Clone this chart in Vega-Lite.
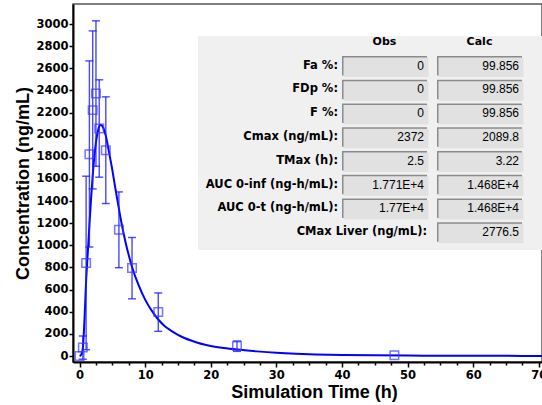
{
  "$schema": "https://vega.github.io/schema/vega-lite/v6.json",
  "width": 469,
  "height": 358,
  "autosize": "none",
  "padding": {"left": 73, "top": 4, "right": 0, "bottom": 43},
  "background": "white",
  "config": {"view": {"stroke": "#555555", "strokeWidth": 1.5}},
  "datasets": {
    "curve": [
      {"t": 0, "c": 0}, {"t": 0.25, "c": 12}, {"t": 0.5, "c": 70}, {"t": 0.75, "c": 330},
      {"t": 1, "c": 680}, {"t": 1.25, "c": 930}, {"t": 1.5, "c": 1180}, {"t": 1.75, "c": 1420},
      {"t": 2, "c": 1630}, {"t": 2.25, "c": 1800}, {"t": 2.5, "c": 1930}, {"t": 2.75, "c": 2020},
      {"t": 3, "c": 2075}, {"t": 3.22, "c": 2090}, {"t": 3.5, "c": 2075}, {"t": 4, "c": 1990},
      {"t": 4.5, "c": 1840}, {"t": 5, "c": 1680}, {"t": 5.5, "c": 1500}, {"t": 6, "c": 1330},
      {"t": 6.5, "c": 1170}, {"t": 7, "c": 1030}, {"t": 7.5, "c": 910}, {"t": 8, "c": 805},
      {"t": 9, "c": 640}, {"t": 10, "c": 510}, {"t": 11, "c": 410}, {"t": 12, "c": 330},
      {"t": 13, "c": 270}, {"t": 14, "c": 228}, {"t": 15, "c": 192}, {"t": 16, "c": 163},
      {"t": 17, "c": 140}, {"t": 18, "c": 120}, {"t": 19, "c": 104}, {"t": 20, "c": 91},
      {"t": 22, "c": 72}, {"t": 24, "c": 58}, {"t": 27, "c": 42}, {"t": 30, "c": 29},
      {"t": 33, "c": 20}, {"t": 36, "c": 14}, {"t": 40, "c": 9}, {"t": 45, "c": 6},
      {"t": 50, "c": 4}, {"t": 55, "c": 3}, {"t": 60, "c": 2}, {"t": 65, "c": 1.5},
      {"t": 70, "c": 1}, {"t": 70.5, "c": 1}
    ],
    "obs": [
      {"t": 0, "c": 0, "lo": null, "hi": null},
      {"t": 0.5, "c": 76, "lo": -29, "hi": 181},
      {"t": 1, "c": 841, "lo": 57, "hi": 1625},
      {"t": 1.5, "c": 1824, "lo": 985, "hi": 2667},
      {"t": 2, "c": 2222, "lo": 1510, "hi": 2938},
      {"t": 2.5, "c": 2372, "lo": 1715, "hi": 3029},
      {"t": 3, "c": 2056, "lo": 1616, "hi": 2496},
      {"t": 4, "c": 1860, "lo": 1378, "hi": 2342},
      {"t": 6, "c": 1140, "lo": 798, "hi": 1483},
      {"t": 8, "c": 796, "lo": 517, "hi": 1071},
      {"t": 12, "c": 398, "lo": 223, "hi": 570},
      {"t": 24, "c": 90, "lo": 42, "hi": 136},
      {"t": 48, "c": 8, "lo": null, "hi": null}
    ],
    "table": [
      {"row": "Fa %:", "obs": "0", "calc": "99.856", "lc": "label"},
      {"row": "FDp %:", "obs": "0", "calc": "99.856", "lc": "label"},
      {"row": "F %:", "obs": "0", "calc": "99.856", "lc": "label"},
      {"row": "Cmax (ng/mL):", "obs": "2372", "calc": "2089.8", "lc": "label"},
      {"row": "TMax (h):", "obs": "2.5", "calc": "3.22", "lc": "label"},
      {"row": "AUC 0-inf (ng-h/mL):", "obs": "1.771E+4", "calc": "1.468E+4", "lc": "label"},
      {"row": "AUC 0-t (ng-h/mL):", "obs": "1.77E+4", "calc": "1.468E+4", "lc": "label"},
      {"row": "CMax Liver (ng/mL):", "obs": "", "calc": "2776.5", "lc": "obs"}
    ],
    "header": [
      {"row": "hdr", "col": "obs", "text": "Obs"},
      {"row": "hdr", "col": "calc", "text": "Calc"}
    ]
  },
  "layer": [
    {
      "encoding": {
        "x": {
          "type": "quantitative",
          "scale": {"domain": [-1, 70.5], "nice": false, "zero": false},
          "axis": {
            "values": [0, 2.5, 5, 7.5, 10, 12.5, 15, 17.5, 20, 22.5, 25, 27.5, 30, 32.5, 35, 37.5, 40, 42.5, 45, 47.5, 50, 52.5, 55, 57.5, 60, 62.5, 65, 67.5, 70],
            "labelExpr": "datum.value % 10 === 0 ? datum.label : ''",
            "labelOverlap": false,
            "tickSize": {"condition": {"test": "datum.value % 10 === 0", "value": 5}, "value": 3},
            "tickColor": "black", "tickWidth": 1.5,
            "domainColor": "black", "domainWidth": 2,
            "grid": false,
            "labelFont": "DejaVu Sans", "labelFontWeight": "bold", "labelFontSize": 11.5, "labelColor": "black", "labelPadding": 2,
            "title": "Simulation Time (h)", "titleFont": "Liberation Sans", "titleFontSize": 18, "titleFontWeight": "bold", "titleColor": "black",
            "titlePadding": 3, "titleX": 241
          }
        },
        "y": {
          "type": "quantitative",
          "scale": {"domain": [-54, 3181], "nice": false, "zero": false},
          "axis": {
            "values": [0, 200, 400, 600, 800, 1000, 1200, 1400, 1600, 1800, 2000, 2200, 2400, 2600, 2800, 3000],
            "format": "d",
            "tickSize": 4, "tickColor": "black", "tickWidth": 1.5,
            "domainColor": "black", "domainWidth": 2,
            "grid": false,
            "labelFont": "DejaVu Sans", "labelFontWeight": "bold", "labelFontSize": 11.5, "labelColor": "black", "labelPadding": 1,
            "title": "Concentration (ng/mL)", "titleFont": "Liberation Sans", "titleFontSize": 18, "titleFontWeight": "bold", "titleColor": "black",
            "titlePadding": 3
          }
        }
      },
      "layer": [
        {
          "data": {"name": "curve"},
          "mark": {"type": "line", "color": "#0000ff", "strokeWidth": 2, "interpolate": "monotone"},
          "encoding": {"x": {"field": "t"}, "y": {"field": "c"}}
        },
        {
          "data": {"name": "obs"},
          "transform": [{"filter": "datum.lo != null"}],
          "mark": {"type": "rule", "color": "#1a1aff", "strokeWidth": 1.4, "opacity": 0.8},
          "encoding": {"x": {"field": "t"}, "y": {"field": "lo"}, "y2": {"field": "hi"}}
        },
        {
          "data": {"name": "obs"},
          "transform": [{"fold": ["lo", "hi"], "as": ["k", "v"]}, {"filter": "datum.v != null"}],
          "mark": {"type": "tick", "orient": "horizontal", "color": "#1a1aff", "size": 8, "thickness": 1.4, "opacity": 0.8},
          "encoding": {"x": {"field": "t"}, "y": {"field": "v"}}
        },
        {
          "data": {"name": "obs"},
          "mark": {"type": "point", "shape": "square", "filled": false, "size": 72, "stroke": "#3a3aff", "strokeWidth": 1.5, "opacity": 0.7},
          "encoding": {"x": {"field": "t"}, "y": {"field": "c"}}
        }
      ]
    },
    {
      "layer": [
        {
          "data": {"name": "header"},
          "transform": [{"filter": "datum.col === 'obs'"}],
          "mark": {"type": "rect", "fill": "#f0f0f0", "xOffset": 3.5, "x2Offset": 70, "yOffset": -6, "y2Offset": 18},
          "encoding": {
            "x": {"datum": "pad", "type": "nominal", "axis": null, "scale": {"type": "band", "domain": ["pad", "label", "obs", "calc"], "range": [79, 449], "paddingInner": 0.10526, "paddingOuter": 0}},
            "x2": {"datum": "calc"},
            "y": {"datum": "hdr", "type": "nominal", "axis": null, "scale": {"type": "band", "domain": ["hdr", "Fa %:", "FDp %:", "F %:", "Cmax (ng/mL):", "TMax (h):", "AUC 0-inf (ng-h/mL):", "AUC 0-t (ng-h/mL):", "CMax Liver (ng/mL):"], "range": [28.25, 237.75], "paddingInner": 0.179, "paddingOuter": 0}},
            "y2": {"datum": "CMax Liver (ng/mL):"}
          }
        },
        {
          "data": {"name": "table"},
          "transform": [{"fold": ["obs", "calc"], "as": ["col", "val"]}, {"filter": "datum.val !== ''"}],
          "mark": {"type": "rect", "fill": "#fbfbfb"},
          "encoding": {
            "x": {"field": "col", "type": "nominal", "axis": null},
            "y": {"field": "row", "type": "nominal", "axis": null}
          }
        },
        {
          "data": {"name": "table"},
          "transform": [{"fold": ["obs", "calc"], "as": ["col", "val"]}, {"filter": "datum.val !== ''"}],
          "mark": {"type": "rect", "fill": "#8a8a8a", "x2Offset": -1, "y2Offset": -1},
          "encoding": {
            "x": {"field": "col", "type": "nominal", "axis": null},
            "y": {"field": "row", "type": "nominal", "axis": null}
          }
        },
        {
          "data": {"name": "table"},
          "transform": [{"fold": ["obs", "calc"], "as": ["col", "val"]}, {"filter": "datum.val !== ''"}],
          "mark": {"type": "rect", "fill": "#e1e1e1", "xOffset": 1.5, "yOffset": 1.5, "x2Offset": -1, "y2Offset": -1},
          "encoding": {
            "x": {"field": "col", "type": "nominal", "axis": null},
            "y": {"field": "row", "type": "nominal", "axis": null}
          }
        },
        {
          "data": {"name": "table"},
          "transform": [{"fold": ["obs", "calc"], "as": ["col", "val"]}, {"filter": "datum.val !== ''"}],
          "mark": {"type": "text", "align": "right", "baseline": "middle", "dx": -3, "font": "Liberation Sans", "fontSize": 12, "color": "black"},
          "encoding": {
            "x": {"field": "col", "type": "nominal", "axis": null, "bandPosition": 1},
            "y": {"field": "row", "type": "nominal", "axis": null},
            "text": {"field": "val"}
          }
        },
        {
          "data": {"name": "table"},
          "transform": [{"filter": "datum.lc === 'label'"}],
          "mark": {"type": "text", "align": "right", "baseline": "middle", "dx": 6, "font": "DejaVu Sans", "fontWeight": "bold", "fontSize": 11.5, "color": "black"},
          "encoding": {
            "x": {"field": "lc", "type": "nominal", "axis": null, "bandPosition": 1},
            "y": {"field": "row", "type": "nominal", "axis": null},
            "text": {"field": "row"}
          }
        },
        {
          "data": {"name": "table"},
          "transform": [{"filter": "datum.lc === 'obs'"}],
          "mark": {"type": "text", "align": "right", "baseline": "middle", "dx": 0, "font": "DejaVu Sans", "fontWeight": "bold", "fontSize": 11.5, "color": "black"},
          "encoding": {
            "x": {"field": "lc", "type": "nominal", "axis": null, "bandPosition": 1},
            "y": {"field": "row", "type": "nominal", "axis": null},
            "text": {"field": "row"}
          }
        },
        {
          "data": {"name": "header"},
          "mark": {"type": "text", "align": "center", "baseline": "middle", "font": "DejaVu Sans", "fontWeight": "bold", "fontSize": 11, "color": "black"},
          "encoding": {
            "x": {"field": "col", "type": "nominal", "axis": null},
            "y": {"field": "row", "type": "nominal", "axis": null},
            "text": {"field": "text"}
          }
        }
      ]
    }
  ],
  "resolve": {"scale": {"x": "independent", "y": "independent"}}
}
